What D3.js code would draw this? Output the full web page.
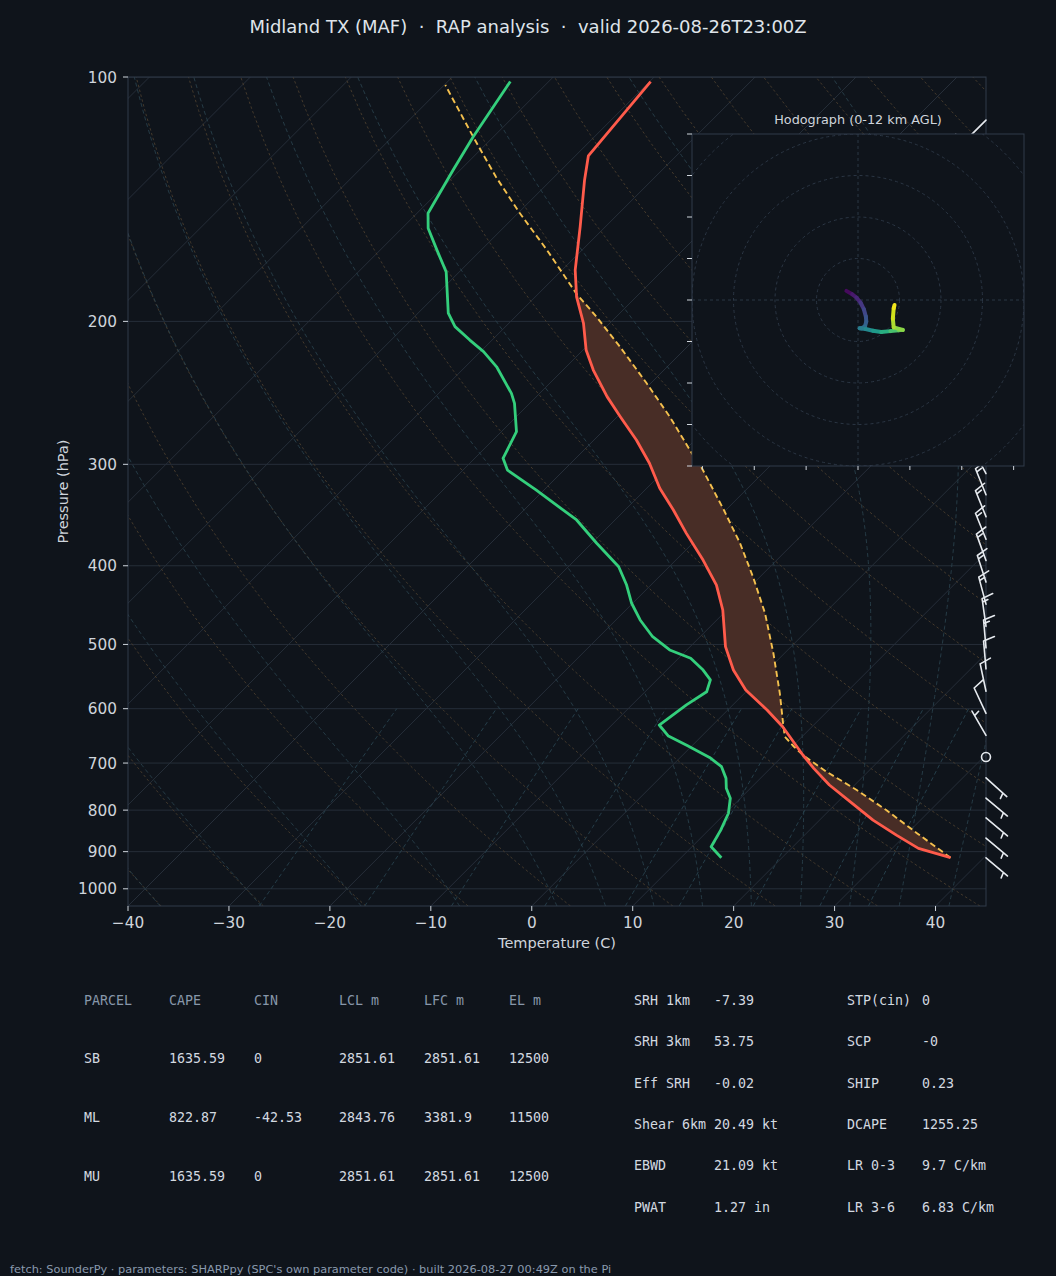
<!DOCTYPE html>
<html>
<head>
<meta charset="utf-8">
<script src="https://cdn.jsdelivr.net/npm/d3@7"></script>
<style>
  body { margin: 0; background: #0f141b; }
  svg { display: block; font-family: "DejaVu Sans", sans-serif; }
  .mono { font-family: "DejaVu Sans Mono", monospace; }
</style>
</head>
<body>
<div id="chart"></div>
<script>
// ---- sounding ----
const tempP = [915.6, 891.7, 858.7, 823.0, 781.1, 745.0, 710.6, 684.2, 631.5, 602.3, 569.0, 537.7, 503.2,
  453.5, 422.5, 393.6, 364.9, 341.5, 321.1, 299.1, 280.0, 262.1, 247.6, 229.6, 216.9, 201.1, 186.6,
  172.9, 152.9, 133.9, 125.1, 101.3];
const tempC = [36.7, 32.6, 29.1, 25.3, 21.2, 17.5, 14.3, 11.9, 7.1, 3.9, -0.2, -3.4, -6.5,
  -10.4, -13.5, -17.3, -21.6, -25.2, -28.7, -32.2, -35.8, -39.7, -43.0, -47.0, -49.7, -52.6, -55.9,
  -58.7, -62.5, -66.7, -68.7, -69.9];

const dewP = [915.6, 887.5, 846.7, 807.2, 773.6, 751.7, 731.1, 707.3, 689.0, 666.1, 648.4, 628.4, 593.6,
  571.8, 553.0, 537.7, 520.0, 507.9, 489.2, 466.5, 444.9, 422.5, 401.1, 375.3, 351.3, 322.6, 304.9,
  294.9, 273.5, 252.4, 245.3, 227.5, 217.9, 210.9, 203.0, 195.4, 173.8, 163.3, 153.6, 147.2, 130.2,
  118.5, 101.3];
const dewC = [14.0, 11.9, 11.2, 10.3, 9.0, 7.6, 6.6, 5.0, 2.9, -0.5, -3.3, -5.3, -4.6,
  -3.9, -4.7, -6.4, -8.8, -11.7, -14.7, -17.6, -20.1, -22.4, -25.0, -29.5, -33.8, -40.8, -45.6,
  -47.2, -48.5, -51.5, -52.8, -56.9, -59.7, -62.2, -65.0, -67.0, -71.3, -74.4, -77.4, -78.9, -80.7,
  -82.0, -83.8];

const parcelP = [915.6, 854.6, 799.7, 755.6, 717.5, 684.2, 668.3, 649.6, 625.4, 574.3, 512.7, 457.6,
  412.7, 375.3, 341.5, 303.4, 290.7, 262.1, 238.4, 214.8, 197.3, 184.7, 163.3, 147.2, 132.7, 118.5, 102.3];
const parcelC = [36.7, 31.0, 25.6, 20.7, 15.9, 11.9, 10.2, 8.3, 6.8, 3.5, -1.1, -5.9,
  -10.7, -15.3, -20.2, -26.5, -29.0, -34.8, -40.4, -46.7, -52.0, -56.3, -63.5, -69.8, -75.8, -82.0, -89.9];

// wind barbs (hPa, direction from, kt)
const barbP = [916, 866, 818, 773, 730, 688, 647, 608, 571, 536, 505, 475, 446, 419, 394, 371, 348, 327,
  308, 289, 271, 255, 240, 225, 212, 199, 186, 175, 164, 154, 145, 136, 128, 120, 113];
const barbDir = [130, 130, 130, 130, 132, 0, 330, 335, 348, 355, 355, 352, 345, 342, 340, 338, 338, 338,
  332, 325, 318, 310, 300, 290, 282, 275, 268, 262, 256, 250, 244, 238, 234, 230, 225];
const barbSpd = [5, 5, 5, 5, 5, 0, 5, 10, 10, 10, 15, 15, 15, 15, 15, 15, 15, 15,
  15, 15, 15, 15, 15, 10, 10, 10, 10, 10, 10, 10, 10, 10, 10, 10, 10];

// hodograph, kt and km AGL
const hodoU = [-2.8, -1.4, -0.4, 0.6, 1.4, 1.9, 2.0, 1.7, 0.9, 0.4, 1.8, 3.6, 5.6, 7.8, 9.8, 10.8, 8.6, 8.4, 8.6, 8.8];
const hodoV = [2.2, 1.4, 0.6, -0.6, -2.2, -4.0, -5.2, -6.3, -6.8, -6.8, -7.0, -7.4, -7.7, -7.5, -7.3, -7.2, -6.6, -4.5, -2.0, -1.2];
const hodoH = [0, 0.6, 1.0, 1.6, 2.2, 2.8, 3.3, 3.8, 4.4, 4.8, 5.3, 6.0, 7.0, 8.0, 9.0, 9.6, 10.2, 10.8, 11.5, 12.0];

const pressureTicks = [100, 200, 300, 400, 500, 600, 700, 800, 900, 1000];
const tempTicks = [-40, -30, -20, -10, 0, 10, 20, 30, 40];
const hodoRings = [10, 20, 30, 40, 50];
const hodoTicksV = [-40, -30, -20, -10, 0, 10, 20, 30, 40];
const hodoTicksU = [-37.5, -25, -12.5, 0, 12.5, 25, 37.5];
const mixingRatios = [0.0004, 0.001, 0.002, 0.004, 0.007, 0.01, 0.016, 0.024, 0.032];

// parameter table
const tableCols = ['PARCEL', 'CAPE', 'CIN', 'LCL m', 'LFC m', 'EL m'];
const parcelNames = ['SB', 'ML', 'MU'];
const parcelCape = ['1635.59', '822.87', '1635.59'];
const parcelCin = ['0', '-42.53', '0'];
const parcelLcl = ['2851.61', '2843.76', '2851.61'];
const parcelLfc = ['2851.61', '3381.9', '2851.61'];
const parcelEl = ['12500', '11500', '12500'];
const kinLabels = ['SRH 1km', 'SRH 3km', 'Eff SRH', 'Shear 6km', 'EBWD', 'PWAT'];
const kinValues = ['-7.39', '53.75', '-0.02', '20.49 kt', '21.09 kt', '1.27 in'];
const idxLabels = ['STP(cin)', 'SCP', 'SHIP', 'DCAPE', 'LR 0-3', 'LR 3-6'];
const idxValues = ['0', '-0', '0.23', '1255.25', '9.7 C/km', '6.83 C/km'];

// ---- layout ----
const BG = '#0f141b';
const PLOT = { left: 128, right: 986, top: 77, bottom: 906 };
const x = d3.scaleLinear().domain([-40, 45]).range([PLOT.left, PLOT.right]);
const y = d3.scaleLog().domain([1050, 100]).range([PLOT.bottom, PLOT.top]);
const sx = (t, p) => x(t) + (PLOT.bottom - y(p));   // 45 degree skew

const svg = d3.select('#chart').append('svg').attr('width', 1056).attr('height', 1276);
svg.append('rect').attr('width', 1056).attr('height', 1276).attr('fill', BG);

svg.append('defs').append('clipPath').attr('id', 'plotClip')
  .append('rect').attr('x', PLOT.left).attr('y', PLOT.top)
  .attr('width', PLOT.right - PLOT.left).attr('height', PLOT.bottom - PLOT.top);

const g = svg.append('g').attr('clip-path', 'url(#plotClip)');
const skewLine = d3.line().x(d => sx(d[1], d[0])).y(d => y(d[0]));

// isobars and isotherms
g.selectAll('.isobar').data(pressureTicks).join('line')
  .attr('x1', PLOT.left).attr('x2', PLOT.right)
  .attr('y1', d => y(d)).attr('y2', d => y(d))
  .attr('stroke', '#262e39').attr('stroke-width', 1);

g.selectAll('.isotherm').data(d3.range(-120, 41, 10)).join('line')
  .attr('x1', d => x(d)).attr('y1', PLOT.bottom)
  .attr('x2', d => x(d) + (PLOT.bottom - PLOT.top)).attr('y2', PLOT.top)
  .attr('stroke', '#262e39').attr('stroke-width', 1);

// thermodynamic reference lines
const Rd = 287.04749, Cp = 1004.6662, Lv = 2.50084e6, eps = 0.62195691;
const satMR = (p, tK) => {
  const tc = tK - 273.15;
  const es = 6.112 * Math.exp(17.67 * tc / (tc + 243.5));
  return eps * es / (p - es);
};
const dTdp = (p, t) => {
  const rs = satMR(p, t);
  return (Rd * t + Lv * rs) / (Cp + (Lv * Lv * rs * eps) / (Rd * t * t)) / p;
};

const dryLevels = d3.range(1050, 99, -10);
d3.range(-40, 241, 10).forEach(t0 => {
  const pts = dryLevels.map(p => [p, (t0 + 273.15) * Math.pow(p / 1000, Rd / Cp) - 273.15]);
  g.append('path').attr('d', skewLine(pts)).attr('fill', 'none')
    .attr('stroke', '#4a3d2e').attr('stroke-width', 0.9).attr('stroke-dasharray', '2.5,2.5');
});

function moistProfile(t0) {
  const run = (h, stop) => {
    const out = [];
    let p = 1000, t = t0 + 273.15;
    while ((h < 0 && p > stop) || (h > 0 && p < stop)) {
      const k1 = dTdp(p, t), k2 = dTdp(p + h / 2, t + h / 2 * k1);
      const k3 = dTdp(p + h / 2, t + h / 2 * k2), k4 = dTdp(p + h, t + h * k3);
      t += h / 6 * (k1 + 2 * k2 + 2 * k3 + k4);
      p += h;
      out.push([p, t - 273.15]);
    }
    return out;
  };
  return run(5, 1050).reverse().concat([[1000, t0]], run(-5, 100));
}
[-40, -30, -20, -10].concat(d3.range(0, 46, 5)).forEach(t0 => {
  g.append('path').attr('d', skewLine(moistProfile(t0))).attr('fill', 'none')
    .attr('stroke', '#283f4b').attr('stroke-width', 0.9).attr('stroke-dasharray', '4,3');
});

const mixLevels = d3.range(1050, 599, -10);
mixingRatios.forEach(w => {
  const pts = mixLevels.map(p => {
    const l = Math.log(p * w / (eps + w) / 6.112);
    return [p, 243.5 * l / (17.67 - l)];
  });
  g.append('path').attr('d', skewLine(pts)).attr('fill', 'none')
    .attr('stroke', '#28434f').attr('stroke-width', 0.9).attr('stroke-dasharray', '4,3');
});

// CAPE shading where the parcel is warmer
function interpLogP(ps, ts, p) {
  for (let i = 0; i < ps.length - 1; i++) {
    if (p <= ps[i] && p >= ps[i + 1]) {
      const f = (Math.log(p) - Math.log(ps[i])) / (Math.log(ps[i + 1]) - Math.log(ps[i]));
      return ts[i] + f * (ts[i + 1] - ts[i]);
    }
  }
  return NaN;
}
const pHi = Math.min(d3.max(tempP), d3.max(parcelP)), pLo = Math.max(d3.min(tempP), d3.min(parcelP));
const levels = Array.from(new Set(tempP.concat(parcelP).filter(p => p <= pHi && p >= pLo)))
  .sort((a, b) => b - a);
const shade = [];
levels.forEach((p, i) => {
  const env = interpLogP(tempP, tempC, p), par = interpLogP(parcelP, parcelC, p);
  if (i > 0) {
    const prev = shade[shade.length - 1];
    const d0 = prev.par - prev.env, d1 = par - env;
    if (d0 * d1 < 0) {
      const f = d0 / (d0 - d1);
      const pc = Math.exp(Math.log(prev.p) + f * (Math.log(p) - Math.log(prev.p)));
      const tc = prev.env + f * (env - prev.env);
      shade.push({ p: pc, env: tc, par: tc });
    }
  }
  shade.push({ p, env, par });
});
g.append('path')
  .attr('d', d3.area()
    .y(d => y(d.p))
    .x0(d => sx(d.env, d.p))
    .x1(d => sx(Math.max(d.env, d.par), d.p))(shade))
  .attr('fill', '#482d26');

// profiles
const zip = (ps, ts) => ps.map((p, i) => [p, ts[i]]);
g.append('path').attr('d', skewLine(zip(parcelP, parcelC))).attr('fill', 'none')
  .attr('stroke', '#f4c04e').attr('stroke-width', 1.9).attr('stroke-dasharray', '6,3.5');
g.append('path').attr('d', skewLine(zip(tempP, tempC))).attr('fill', 'none')
  .attr('stroke', '#ff5b4b').attr('stroke-width', 2.8).attr('stroke-linejoin', 'round');
g.append('path').attr('d', skewLine(zip(dewP, dewC))).attr('fill', 'none')
  .attr('stroke', '#34cf7c').attr('stroke-width', 2.8).attr('stroke-linejoin', 'round');

// frame and ticks
svg.append('rect').attr('x', PLOT.left).attr('y', PLOT.top)
  .attr('width', PLOT.right - PLOT.left).attr('height', PLOT.bottom - PLOT.top)
  .attr('fill', 'none').attr('stroke', '#303b4a').attr('stroke-width', 1);

const tickColor = '#cfd5dc';
const yAxis = svg.append('g');
pressureTicks.forEach(p => {
  yAxis.append('line').attr('x1', PLOT.left - 5).attr('x2', PLOT.left)
    .attr('y1', y(p)).attr('y2', y(p)).attr('stroke', tickColor);
  yAxis.append('text').attr('x', PLOT.left - 11).attr('y', y(p) + 5.5)
    .attr('text-anchor', 'end').attr('font-size', 15.3).attr('fill', tickColor).text(p);
});
const xAxis = svg.append('g');
tempTicks.forEach(t => {
  xAxis.append('line').attr('x1', x(t)).attr('x2', x(t))
    .attr('y1', PLOT.bottom).attr('y2', PLOT.bottom + 5).attr('stroke', tickColor);
  xAxis.append('text').attr('x', x(t)).attr('y', PLOT.bottom + 22)
    .attr('text-anchor', 'middle').attr('font-size', 15.3).attr('fill', tickColor)
    .text(t < 0 ? '\u2212' + Math.abs(t) : t);
});
svg.append('text').attr('x', (PLOT.left + PLOT.right) / 2).attr('y', 948)
  .attr('text-anchor', 'middle').attr('font-size', 14.5).attr('fill', tickColor).text('Temperature (C)');
svg.append('text').attr('transform', `translate(68,${(PLOT.top + PLOT.bottom) / 2}) rotate(-90)`)
  .attr('text-anchor', 'middle').attr('font-size', 14.5).attr('fill', tickColor).text('Pressure (hPa)');

svg.append('text').attr('x', 528).attr('y', 33).attr('text-anchor', 'middle')
  .attr('font-size', 18).attr('fill', '#dfe4ea')
  .text('Midland TX (MAF)  \u00b7  RAP analysis  \u00b7  valid 2026-08-26T23:00Z')
  .attr('xml:space', 'preserve').style('white-space', 'pre');

// wind barbs along the right edge
const barbColor = '#e6eaef';
const gb = svg.append('g');
const L = 28, fh = 0.4 * L, fw = 0.25 * L, sp = 0.125 * L;
barbP.forEach((p, i) => {
  const px = PLOT.right, py = y(p), spd = barbSpd[i];
  if (spd < 2.5) {
    gb.append('circle').attr('cx', px).attr('cy', py).attr('r', 0.16 * L)
      .attr('fill', 'none').attr('stroke', barbColor).attr('stroke-width', 1.6);
    return;
  }
  const th = barbDir[i] * Math.PI / 180;
  const us = [Math.sin(th), -Math.cos(th)], pp = [Math.cos(th), Math.sin(th)];
  const pt = (d, o) => [px + us[0] * d + pp[0] * o, py + us[1] * d + pp[1] * o];
  let s = Math.round(spd / 5) * 5;
  const nfull = Math.floor(s / 10), half = s % 10 >= 5;
  let path = `M${pt(0, 0)}L${pt(L, 0)}`;
  let off = L;
  for (let k = 0; k < nfull; k++) {
    path += `M${pt(off, 0)}L${pt(off + fw / 2, fh)}`;
    off -= sp;
  }
  if (half) {
    if (off === L) off -= 1.5 * sp;
    path += `M${pt(off, 0)}L${pt(off + fw / 4, fh / 2)}`;
  }
  gb.append('path').attr('d', path).attr('fill', 'none').attr('stroke', barbColor)
    .attr('stroke-width', 1.6).attr('stroke-linecap', 'round');
});

// hodograph inset
const HB = { left: 692, top: 134, size: 332 };
const hx = d3.scaleLinear().domain([-40, 40]).range([HB.left, HB.left + HB.size]);
const hy = d3.scaleLinear().domain([-40, 40]).range([HB.top + HB.size, HB.top]);
const hg = svg.append('g');
hg.append('rect').attr('x', HB.left).attr('y', HB.top).attr('width', HB.size).attr('height', HB.size)
  .attr('fill', BG);
svg.select('defs').append('clipPath').attr('id', 'hodoClip')
  .append('rect').attr('x', HB.left).attr('y', HB.top).attr('width', HB.size).attr('height', HB.size);
const hin = hg.append('g').attr('clip-path', 'url(#hodoClip)');
hin.selectAll('circle').data(hodoRings).join('circle')
  .attr('cx', hx(0)).attr('cy', hy(0)).attr('r', d => hx(d) - hx(0))
  .attr('fill', 'none').attr('stroke', '#2b3644').attr('stroke-width', 1).attr('stroke-dasharray', '3,3');
hin.append('line').attr('x1', HB.left).attr('x2', HB.left + HB.size).attr('y1', hy(0)).attr('y2', hy(0))
  .attr('stroke', '#2b3644').attr('stroke-dasharray', '3,3');
hin.append('line').attr('y1', HB.top).attr('y2', HB.top + HB.size).attr('x1', hx(0)).attr('x2', hx(0))
  .attr('stroke', '#2b3644').attr('stroke-dasharray', '3,3');
const hmax = d3.max(hodoH);
for (let i = 0; i < hodoU.length - 1; i++) {
  hin.append('line')
    .attr('x1', hx(hodoU[i])).attr('y1', hy(hodoV[i]))
    .attr('x2', hx(hodoU[i + 1])).attr('y2', hy(hodoV[i + 1]))
    .attr('stroke', d3.interpolateViridis((hodoH[i] + hodoH[i + 1]) / 2 / hmax))
    .attr('stroke-width', 4).attr('stroke-linecap', 'round');
}
hg.append('rect').attr('x', HB.left).attr('y', HB.top).attr('width', HB.size).attr('height', HB.size)
  .attr('fill', 'none').attr('stroke', '#303b4a');
hodoTicksV.forEach(v => {
  hg.append('line').attr('x1', HB.left - 5).attr('x2', HB.left).attr('y1', hy(v)).attr('y2', hy(v))
    .attr('stroke', tickColor);
});
hodoTicksU.forEach(u => {
  hg.append('line').attr('x1', hx(u)).attr('x2', hx(u))
    .attr('y1', HB.top + HB.size).attr('y2', HB.top + HB.size + 4).attr('stroke', tickColor);
});
hg.append('text').attr('x', hx(0)).attr('y', HB.top - 10).attr('text-anchor', 'middle')
  .attr('font-size', 12.8).attr('fill', tickColor).text('Hodograph (0-12 km AGL)');

// parameter tables
const headColor = '#8797aa', valColor = '#d3d9e0';
const tbl = svg.append('g').attr('class', 'mono').attr('font-size', 13.3);
const colX = [84, 169, 254, 339, 424, 509];
tableCols.forEach((c, j) => {
  tbl.append('text').attr('x', colX[j]).attr('y', 1005).attr('fill', headColor).text(c);
});
const rowY = [1063, 1122, 1181];
parcelNames.forEach((n, i) => {
  [n, parcelCape[i], parcelCin[i], parcelLcl[i], parcelLfc[i], parcelEl[i]].forEach((v, j) => {
    tbl.append('text').attr('x', colX[j]).attr('y', rowY[i]).attr('fill', valColor).text(v);
  });
});
const kinY = [1005, 1046, 1088, 1129, 1170, 1212];
kinLabels.forEach((lab, i) => {
  tbl.append('text').attr('x', 634).attr('y', kinY[i]).attr('fill', valColor).text(lab);
  tbl.append('text').attr('x', 714).attr('y', kinY[i]).attr('fill', valColor).text(kinValues[i]);
  tbl.append('text').attr('x', 847).attr('y', kinY[i]).attr('fill', valColor).text(idxLabels[i]);
  tbl.append('text').attr('x', 922).attr('y', kinY[i]).attr('fill', valColor).text(idxValues[i]);
});

svg.append('text').attr('x', 10).attr('y', 1273).attr('font-size', 11.35).attr('fill', '#8a9aae')
  .text("fetch: SounderPy \u00b7 parameters: SHARPpy (SPC's own parameter code) \u00b7 built 2026-08-27 00:49Z on the Pi");
</script>
</body>
</html>
